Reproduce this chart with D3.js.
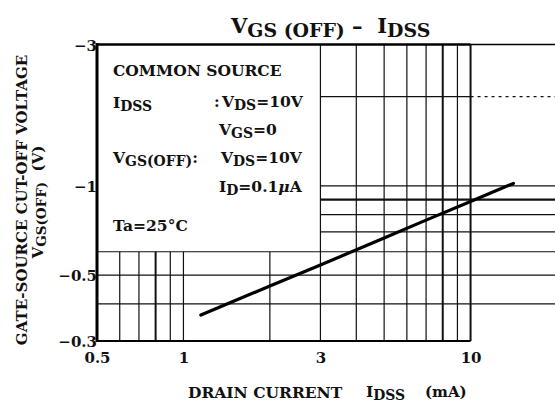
<!DOCTYPE html>
<html>
<head>
<meta charset="utf-8">
<script src="https://cdn.jsdelivr.net/npm/d3@7"></script>
<style>
body { margin: 0; background: #fff; }
text { font-family: "DejaVu Serif", serif; font-weight: bold; fill: #111; white-space: pre; }
</style>
</head>
<body>
<svg id="chart" width="555" height="408"></svg>
<script>
// values (|VGS(OFF)| in volts, IDSS in mA)
const xTicks = [0.5, 1, 3, 10];
const yTicks = [0.3, 0.5, 1, 3];
const xGridLow = [0.6, 0.7, 0.8, 0.9, 1, 2];      // only under the condition box
const xGridFull = [3, 4, 5, 6, 7, 8, 9, 10];
const yGridFull = [0.4, 0.5, 0.6];
const yGridRight = [0.7, 0.8, 0.9, 1, 2];      // right of the condition box
const curveIdss = [1.15, 2, 3, 5, 7, 10, 14.1];
const curveVoff = [0.367, 0.46, 0.541, 0.668, 0.767, 0.887, 1.02];

const svg = d3.select('#chart');

const x = d3.scaleLog().domain([0.5, 20]).range([97, 557]);
const y = d3.scaleLog().domain([0.3, 3]).range([341, 44.5]);

// text with subscript parts, a part starting with '_' is lowered
function rich(parent, px, py, parts, size, anchor) {
    let t = parent.append('text')
        .attr('x', px)
        .attr('y', py)
        .attr('font-size', size)
        .attr('text-anchor', anchor || 'start');
    let low = false;
    parts.forEach(function(p) {
        let sub = p[0] == '_';
        let ts = t.append('tspan').text(sub ? p.slice(1) : p);
        if (sub) {
            ts.attr('font-size', size * 0.9);
            if (!low) { ts.attr('dy', size * 0.18); low = true; }
        } else if (low) {
            ts.attr('dy', -size * 0.18);
            low = false;
        }
    });
    return t;
}

// grid
let grid = svg.append('g').attr('stroke', '#111').attr('fill', 'none');

grid.selectAll('.vlow')
    .data(xGridLow)
    .join('line')
    .attr('class', 'vlow')
    .attr('x1', d => x(d)).attr('x2', d => x(d))
    .attr('y1', y(0.6)).attr('y2', y(0.3))
    .attr('stroke-width', d => d == 0.8 ? 2 : 1.2);

grid.selectAll('.vfull')
    .data(xGridFull)
    .join('line')
    .attr('class', 'vfull')
    .attr('x1', d => x(d)).attr('x2', d => x(d))
    .attr('y1', y(3)).attr('y2', y(0.3))
    .attr('stroke-width', d => (d == 10 || d == 8) ? 2 : 1.2);

grid.selectAll('.hfull')
    .data(yGridFull)
    .join('line')
    .attr('class', 'hfull')
    .attr('x1', x(0.5)).attr('x2', x(20))
    .attr('y1', d => y(d)).attr('y2', d => y(d))
    .attr('stroke-width', 1.2);

grid.selectAll('.hright')
    .data(yGridRight)
    .join('line')
    .attr('class', 'hright')
    .attr('x1', x(3)).attr('x2', d => d == 2 ? x(10) : x(20))
    .attr('y1', d => y(d)).attr('y2', d => y(d))
    .attr('stroke-width', d => d == 0.9 ? 2.2 : 1.2);

// faded tail of the -2 line
grid.append('line')
    .attr('x1', x(10)).attr('x2', x(20))
    .attr('y1', y(2)).attr('y2', y(2))
    .attr('stroke-width', 1.2)
    .attr('stroke-dasharray', '3,4');

// frame
let frame = svg.append('g').attr('stroke', '#000').attr('fill', 'none');
frame.append('line')
    .attr('x1', x(0.5)).attr('x2', x(0.5))
    .attr('y1', y(3) - 1.5).attr('y2', y(0.3) + 1)
    .attr('stroke-width', 3);
frame.append('line')
    .attr('x1', x(0.5)).attr('x2', x(10))
    .attr('y1', y(0.3)).attr('y2', y(0.3))
    .attr('stroke-width', 2.2);
frame.append('line')
    .attr('x1', x(0.5)).attr('x2', x(10))
    .attr('y1', y(3)).attr('y2', y(3))
    .attr('stroke-width', 2.5);
frame.append('line')
    .attr('x1', x(10)).attr('x2', x(20))
    .attr('y1', y(3)).attr('y2', y(3))
    .attr('stroke-width', 1.3);

// curve
let line = d3.line()
    .x(d => x(curveIdss[d]))
    .y(d => y(curveVoff[d]));

svg.append('path')
    .datum(d3.range(curveIdss.length))
    .attr('d', line)
    .attr('fill', 'none')
    .attr('stroke', '#000')
    .attr('stroke-width', 3.2)
    .attr('stroke-linecap', 'round');

// axes labels
let yAxis = svg.append('g')
    .attr('transform', 'translate(' + (x(0.5) + 1) + ',0)')
    .call(d3.axisLeft(y).tickValues(yTicks).tickSize(0).tickPadding(1)
        .tickFormat(d => '\u2212' + d));
yAxis.select('.domain').remove();
yAxis.selectAll('text').attr('font-size', 15).attr('dy', '0.38em');

let xAxis = svg.append('g')
    .attr('transform', 'translate(0,' + y(0.3) + ')')
    .call(d3.axisBottom(x).tickValues(xTicks).tickSize(0).tickPadding(11)
        .tickFormat(d => d));
xAxis.select('.domain').remove();
xAxis.selectAll('text').attr('font-size', 15);

// titles
rich(svg, 231, 33, ['V', '_GS (OFF)', ' \u2013', '  I', '_DSS'], 21);
rich(svg, 188, 398, ['DRAIN CURRENT'], 15.5);
rich(svg, 366, 397, ['I', '_DSS'], 15.5);
rich(svg, 425, 397, ['(mA)'], 15);

let yTitle = svg.append('g').attr('transform', 'rotate(-90)');
rich(yTitle, -200, 27, ['GATE-SOURCE CUT-OFF VOLTAGE'], 15, 'middle');
rich(yTitle, -202, 43, ['V', '_GS(OFF)', '  (V)'], 15, 'middle');

// measurement conditions box
let box = svg.append('g');
rich(box, 113, 76, ['COMMON SOURCE'], 15.5);
rich(box, 113, 108, ['I', '_DSS'], 15.5);
rich(box, 214, 107, [':'], 15.5);
rich(box, 222, 107, ['V', '_DS', '=10V'], 15.5);
rich(box, 219, 135, ['V', '_GS', '=0'], 15.5);
rich(box, 113, 163, ['V', '_GS(OFF)', ':'], 15.5);
rich(box, 221, 163, ['V', '_DS', '=10V'], 15.5);
rich(box, 219, 192, ['I', '_D', '=0.1', '\u03bc', 'A'], 15.5)
    .selectAll('tspan').filter((d, i) => i == 3).attr('font-style', 'italic');
rich(box, 113, 231, ['Ta=25\u00b0C'], 15.5);
</script>
</body>
</html>
